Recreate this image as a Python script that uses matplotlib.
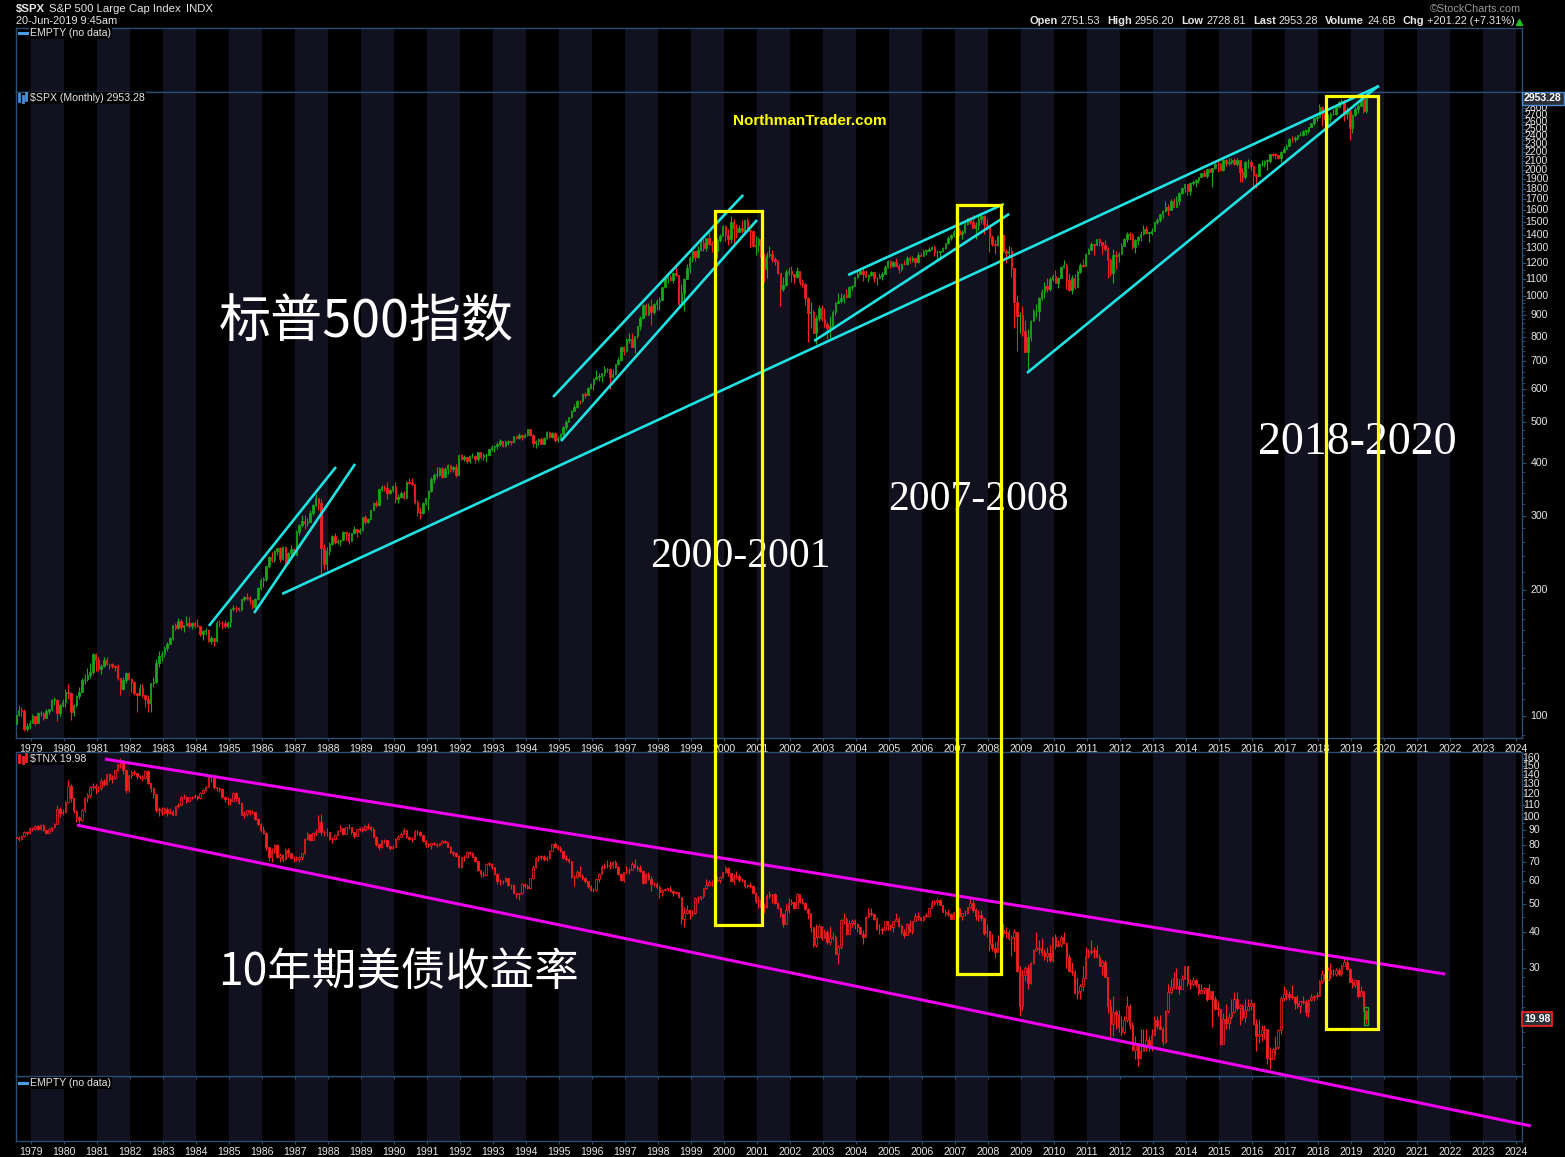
import numpy as np
import matplotlib.pyplot as plt
from matplotlib.patches import Rectangle
from matplotlib.lines import Line2D
from matplotlib.transforms import blended_transform_factory

W, H, DPI = 1565, 1157, 100

BG = 'black'
STRIPE = '#11111f'
FRAME = '#2b4d72'
TXT = '#e6e6e6'
GREEN = '#1aa81a'
RED = '#ff1f1f'
CYAN = '#1fe2e2'
MAGENTA = '#f000f0'
YELLOW = '#ffff00'

plt.rcParams['font.family'] = ['Liberation Sans', 'DejaVu Sans']

FIRST_MONTH = 1978.5  # first monthly bar = Jul 1978

# ---- $SPX monthly bars (Jul 1978 .. Jun 2019) ----
spx_open0 = 95.53
spx_close = [
    100.68, 103.29, 102.54, 93.15, 94.70, 96.11,
    99.93, 96.28, 101.59, 101.76, 99.08, 102.91, 103.81, 109.32, 109.32, 101.82, 106.16, 107.94,
    114.16, 113.66, 102.09, 106.29, 111.24, 114.24, 121.67, 122.38, 125.46, 127.47, 140.52, 135.76,
    129.55, 131.27, 136.00, 132.81, 132.59, 131.21, 130.92, 122.79, 116.18, 121.89, 126.35, 122.55,
    120.40, 113.11, 111.96, 116.44, 111.88, 109.61, 107.09, 119.51, 120.42, 133.71, 138.54, 140.64,
    145.30, 148.06, 152.96, 164.42, 162.39, 168.11, 162.56, 164.40, 166.07, 163.55, 166.40, 164.93,
    163.41, 157.06, 159.18, 160.05, 150.55, 153.18, 150.66, 166.68, 166.10, 166.09, 163.58, 167.24,
    179.63, 181.18, 180.66, 179.83, 189.55, 191.85, 190.92, 188.63, 182.08, 189.82, 202.17, 211.28,
    211.78, 226.92, 238.90, 235.52, 247.35, 250.84, 236.12, 252.93, 231.32, 243.98, 249.22, 242.17,
    274.08, 284.20, 291.70, 288.36, 290.10, 304.00, 318.66, 329.80, 321.83, 251.79, 230.30, 247.08,
    257.07, 267.82, 258.89, 261.33, 262.16, 273.50, 272.02, 261.52, 271.91, 278.97, 273.70, 277.72,
    297.47, 288.86, 294.87, 309.64, 320.52, 317.98, 346.08, 351.45, 349.15, 340.36, 345.99, 353.40,
    329.08, 331.89, 339.94, 330.80, 361.23, 358.02, 356.15, 322.56, 306.05, 304.00, 322.22, 330.22,
    343.93, 367.07, 375.22, 375.34, 389.83, 371.16, 387.81, 395.43, 387.86, 392.46, 375.22, 417.09,
    408.79, 412.70, 403.69, 414.95, 415.35, 408.14, 424.21, 414.03, 417.80, 418.68, 431.35, 435.71,
    438.78, 443.38, 451.67, 440.19, 450.19, 450.53, 448.13, 463.56, 458.93, 467.83, 461.79, 466.45,
    481.61, 467.14, 445.77, 450.91, 456.50, 444.27, 458.26, 475.49, 462.69, 472.35, 453.69, 459.27,
    470.42, 487.39, 500.71, 514.71, 533.40, 544.75, 562.06, 561.88, 584.41, 581.50, 605.37, 615.93,
    636.02, 640.43, 645.50, 654.17, 669.12, 670.63, 639.95, 651.99, 687.33, 705.27, 757.02, 740.74,
    786.16, 790.82, 757.12, 801.34, 848.28, 885.14, 954.31, 899.47, 947.28, 914.62, 955.40, 970.43,
    980.28, 1049.34, 1101.75, 1111.75, 1090.82, 1133.84, 1120.67, 957.28, 1017.01, 1098.67, 1163.63, 1229.23,
    1279.64, 1238.33, 1286.37, 1335.18, 1301.84, 1372.71, 1328.72, 1320.41, 1282.71, 1362.93, 1388.91, 1469.25,
    1394.46, 1366.42, 1498.58, 1452.43, 1420.60, 1454.60, 1430.83, 1517.68, 1436.51, 1429.40, 1314.95, 1320.28,
    1366.01, 1239.94, 1160.33, 1249.46, 1255.82, 1224.42, 1211.23, 1133.58, 1040.94, 1059.78, 1139.45, 1148.08,
    1130.20, 1106.73, 1147.39, 1076.92, 1067.14, 989.82, 911.62, 916.07, 815.28, 885.76, 936.31, 879.82,
    855.70, 841.15, 848.18, 916.92, 963.59, 974.50, 990.31, 1008.01, 995.97, 1050.71, 1058.20, 1111.92,
    1131.13, 1144.94, 1126.21, 1107.30, 1120.68, 1140.84, 1101.72, 1104.24, 1114.58, 1130.20, 1173.82, 1211.92,
    1181.27, 1203.60, 1180.59, 1156.85, 1191.50, 1191.33, 1234.18, 1220.33, 1228.81, 1207.01, 1249.48, 1248.29,
    1280.08, 1280.66, 1294.83, 1310.61, 1270.09, 1270.20, 1276.66, 1303.82, 1335.85, 1377.94, 1400.63, 1418.30,
    1438.24, 1406.82, 1420.86, 1482.37, 1530.62, 1503.35, 1455.27, 1473.99, 1526.75, 1549.38, 1481.14, 1468.36,
    1378.55, 1330.63, 1322.70, 1385.59, 1400.38, 1280.00, 1267.38, 1282.83, 1166.36, 968.75, 896.24, 903.25,
    825.88, 735.09, 797.87, 872.81, 919.14, 919.32, 987.48, 1020.62, 1057.08, 1036.19, 1095.63, 1115.10,
    1073.87, 1104.49, 1169.43, 1186.69, 1089.41, 1030.71, 1101.60, 1049.33, 1141.20, 1183.26, 1180.55, 1257.64,
    1286.12, 1327.22, 1325.83, 1363.61, 1345.20, 1320.64, 1292.28, 1218.89, 1131.42, 1253.30, 1246.96, 1257.60,
    1312.41, 1365.68, 1408.47, 1397.91, 1310.33, 1362.16, 1379.32, 1406.58, 1440.67, 1412.16, 1416.18, 1426.19,
    1498.11, 1514.68, 1569.19, 1597.57, 1630.74, 1606.28, 1685.73, 1632.97, 1681.55, 1756.54, 1805.81, 1848.36,
    1782.59, 1859.45, 1872.34, 1883.95, 1923.57, 1960.23, 1930.67, 2003.37, 1972.29, 2018.05, 2067.56, 2058.90,
    1994.99, 2104.50, 2067.89, 2085.51, 2107.39, 2063.11, 2103.84, 1972.18, 1920.03, 2079.36, 2080.41, 2043.94,
    1940.24, 1932.23, 2059.74, 2065.30, 2096.95, 2098.86, 2173.60, 2170.95, 2168.27, 2126.15, 2198.81, 2238.83,
    2278.87, 2363.64, 2362.72, 2384.20, 2411.80, 2423.41, 2470.30, 2471.65, 2519.36, 2575.26, 2647.58, 2673.61,
    2823.81, 2713.83, 2640.87, 2648.05, 2705.27, 2718.37, 2816.29, 2901.52, 2913.98, 2711.74, 2760.17, 2506.85,
    2704.10, 2784.49, 2834.40, 2945.83, 2752.06, 2953.28,
]
spx_high = [
    101, 106, 105, 104, 96, 98,
    101, 100, 102, 103, 102, 104, 104, 110, 111, 110, 107, 110,
    116, 119, 114, 107, 112, 117, 123, 126, 130, 134, 141, 141,
    138, 133, 138, 138, 134, 134, 132, 133, 123, 124, 127, 127,
    123, 121, 113, 119, 119, 112, 112, 120, 124, 137, 143, 143,
    147, 150, 154, 165, 166, 171, 170, 165, 173, 172, 167, 168,
    170, 164, 160, 162, 161, 155, 152, 168, 169, 168, 169, 168,
    180, 184, 183, 182, 190, 193, 196, 193, 189, 191, 203, 213,
    214, 227, 240, 245, 248, 251, 253, 254, 254, 245, 255, 251,
    277, 286, 301, 301, 296, 309, 320, 338, 330, 328, 256, 253,
    260, 269, 272, 264, 263, 276, 275, 274, 272, 283, 279, 280,
    298, 301, 296, 310, 323, 327, 347, 354, 355, 360, 347, 354,
    360, 337, 344, 344, 362, 369, 369, 356, 326, 315, 323, 331,
    345, 371, 378, 392, 391, 391, 391, 397, 396, 394, 398, 418,
    421, 419, 414, 419, 423, 418, 425, 425, 423, 422, 432, 442,
    442, 450, 457, 452, 454, 453, 451, 464, 464, 471, 469, 471,
    483, 482, 469, 453, 459, 462, 461, 477, 476, 475, 474, 463,
    473, 489, 507, 515, 534, 552, 564, 565, 586, 590, 608, 622,
    637, 665, 656, 656, 680, 673, 673, 669, 690, 714, 762, 762,
    794, 818, 815, 805, 850, 898, 957, 961, 960, 983, 961, 986,
    992, 1050, 1106, 1131, 1123, 1139, 1190, 1121, 1066, 1103, 1193, 1244,
    1283, 1282, 1317, 1362, 1368, 1373, 1419, 1350, 1361, 1373, 1408, 1474,
    1478, 1445, 1553, 1528, 1481, 1474, 1517, 1519, 1530, 1437, 1433, 1390,
    1384, 1377, 1264, 1270, 1316, 1287, 1236, 1218, 1135, 1110, 1161, 1174,
    1176, 1131, 1173, 1147, 1099, 1071, 994, 965, 925, 900, 954, 954,
    935, 865, 896, 924, 965, 1015, 1016, 1012, 1040, 1054, 1064, 1112,
    1155, 1158, 1163, 1150, 1127, 1146, 1141, 1110, 1132, 1141, 1188, 1217,
    1218, 1213, 1229, 1192, 1199, 1219, 1246, 1245, 1243, 1233, 1271, 1276,
    1295, 1297, 1310, 1318, 1326, 1284, 1283, 1307, 1340, 1389, 1407, 1432,
    1441, 1461, 1438, 1498, 1533, 1541, 1556, 1503, 1539, 1576, 1555, 1524,
    1471, 1396, 1359, 1397, 1441, 1405, 1293, 1314, 1305, 1168, 1007, 918,
    944, 877, 833, 877, 930, 957, 996, 1040, 1081, 1101, 1111, 1130,
    1150, 1112, 1181, 1220, 1200, 1132, 1120, 1130, 1150, 1196, 1228, 1263,
    1303, 1345, 1333, 1364, 1371, 1346, 1357, 1308, 1230, 1293, 1277, 1270,
    1334, 1377, 1419, 1423, 1416, 1363, 1392, 1427, 1475, 1470, 1417, 1448,
    1504, 1531, 1570, 1598, 1687, 1654, 1698, 1709, 1730, 1768, 1813, 1849,
    1851, 1867, 1884, 1897, 1925, 1968, 1992, 2005, 2019, 2019, 2076, 2094,
    2072, 2119, 2117, 2126, 2135, 2130, 2132, 2113, 2021, 2094, 2117, 2104,
    2039, 1963, 2073, 2111, 2104, 2121, 2178, 2194, 2188, 2169, 2214, 2278,
    2301, 2372, 2401, 2399, 2418, 2454, 2484, 2491, 2520, 2582, 2658, 2695,
    2873, 2836, 2801, 2718, 2742, 2791, 2849, 2917, 2941, 2940, 2816, 2800,
    2708, 2813, 2860, 2949, 2955, 2956,
]
spx_low = [
    94, 100, 100, 92, 92, 93,
    96, 95, 96, 100, 98, 99, 101, 103, 106, 97, 100, 105,
    105, 110, 98, 100, 105, 110, 114, 119, 121, 123, 126, 128,
    128, 126, 131, 132, 129, 130, 128, 122, 112, 115, 120, 122,
    114, 112, 102, 112, 111, 105, 102, 102, 117, 120, 131, 135,
    138, 143, 148, 152, 160, 161, 160, 158, 164, 162, 161, 162,
    163, 155, 152, 156, 150, 148, 147, 150, 163, 161, 162, 162,
    163, 178, 177, 178, 178, 188, 189, 185, 180, 181, 189, 200,
    203, 210, 225, 232, 232, 241, 233, 235, 228, 231, 239, 242,
    242, 269, 281, 278, 283, 289, 301, 316, 309, 216, 224, 223,
    242, 255, 256, 256, 254, 262, 263, 256, 262, 271, 266, 271,
    276, 287, 288, 294, 309, 315, 316, 343, 343, 329, 337, 341,
    322, 322, 331, 328, 330, 356, 354, 320, 300, 294, 302, 318,
    309, 341, 359, 368, 372, 368, 370, 377, 381, 380, 371, 374,
    406, 405, 401, 400, 411, 401, 404, 410, 407, 402, 417, 427,
    425, 431, 440, 437, 437, 441, 441, 446, 456, 457, 454, 461,
    464, 464, 438, 435, 442, 443, 444, 456, 460, 460, 449, 450,
    457, 467, 480, 500, 511, 531, 540, 554, 560, 573, 580, 599,
    597, 631, 627, 624, 645, 658, 601, 638, 649, 684, 699, 723,
    737, 773, 756, 733, 794, 830, 882, 899, 900, 855, 908, 924,
    927, 980, 1044, 1076, 1086, 1075, 1114, 940, 939, 923, 1097, 1133,
    1205, 1211, 1234, 1282, 1282, 1282, 1324, 1273, 1268, 1233, 1343, 1387,
    1350, 1326, 1339, 1340, 1374, 1420, 1416, 1431, 1435, 1305, 1305, 1254,
    1275, 1216, 1082, 1104, 1235, 1203, 1183, 1130, 945, 1026, 1054, 1124,
    1081, 1075, 1106, 1064, 1048, 953, 776, 838, 815, 768, 872, 872,
    845, 789, 788, 847, 902, 963, 962, 961, 991, 994, 1032, 1058,
    1105, 1125, 1088, 1107, 1077, 1114, 1079, 1060, 1101, 1090, 1127, 1163,
    1163, 1170, 1176, 1137, 1147, 1188, 1183, 1201, 1205, 1169, 1201, 1246,
    1245, 1253, 1279, 1285, 1245, 1219, 1225, 1271, 1291, 1327, 1360, 1385,
    1403, 1390, 1364, 1416, 1476, 1484, 1451, 1370, 1439, 1489, 1407, 1436,
    1270, 1317, 1257, 1318, 1374, 1272, 1200, 1248, 1107, 839, 741, 815,
    805, 735, 667, 783, 879, 889, 870, 979, 991, 1020, 1030, 1086,
    1071, 1045, 1106, 1165, 1040, 1029, 1011, 1040, 1049, 1132, 1173, 1181,
    1257, 1287, 1249, 1324, 1318, 1259, 1283, 1102, 1115, 1075, 1158, 1203,
    1258, 1312, 1341, 1358, 1292, 1267, 1325, 1355, 1397, 1404, 1343, 1398,
    1426, 1485, 1501, 1536, 1582, 1560, 1605, 1628, 1633, 1646, 1747, 1768,
    1738, 1737, 1834, 1814, 1862, 1915, 1930, 1905, 1964, 1821, 2001, 1973,
    1988, 1981, 2040, 2048, 2067, 2056, 2045, 1867, 1872, 1894, 2020, 1993,
    1812, 1811, 1937, 2034, 2026, 1992, 2075, 2148, 2120, 2114, 2084, 2187,
    2245, 2271, 2322, 2329, 2353, 2405, 2407, 2418, 2447, 2520, 2557, 2605,
    2682, 2533, 2586, 2553, 2595, 2692, 2699, 2803, 2864, 2604, 2632, 2346,
    2444, 2681, 2722, 2848, 2729, 2729,
]

# ---- $TNX monthly bars (yield x10), Jul 1978 .. Jun 2019 ----
tnx_open0 = 85.0
tnx_close = [
    84.6, 84.1, 85.8, 88.6, 88.4, 91.5,
    91.0, 93.0, 91.2, 94.0, 90.5, 88.0, 91.0, 92.0, 94.5, 107.0, 103.0, 103.9,
    113.0, 128.0, 116.0, 105.0, 100.0, 98.0, 106.0, 116.0, 119.5, 127.0, 128.0, 125.7,
    126.0, 133.5, 130.0, 140.5, 135.0, 136.0, 145.0, 152.0, 154.0, 145.0, 124.0, 139.8,
    143.0, 142.0, 139.0, 138.0, 136.0, 144.5, 131.0, 126.0, 120.0, 106.0, 106.0, 104.5,
    107.0, 103.5, 104.5, 102.0, 109.0, 110.0, 117.5, 117.0, 113.5, 117.0, 117.0, 118.0,
    116.0, 121.0, 124.5, 127.0, 138.5, 137.5, 127.0, 126.0, 125.0, 117.0, 115.0, 115.5,
    114.0, 121.5, 116.0, 112.0, 102.0, 102.5, 105.5, 104.0, 104.0, 98.5, 94.5, 90.0,
    88.0, 78.5, 73.0, 77.0, 80.0, 72.5, 74.0, 71.5, 77.0, 75.0, 72.0, 72.3,
    71.5, 72.5, 75.0, 84.0, 87.5, 83.5, 88.0, 89.0, 96.0, 89.0, 88.5, 88.5,
    84.0, 84.0, 87.0, 89.5, 91.5, 87.5, 92.0, 92.5, 88.5, 86.0, 91.0, 91.5,
    90.0, 93.0, 92.5, 91.0, 85.5, 80.5, 78.5, 83.0, 83.0, 79.5, 78.0, 79.0,
    84.0, 85.5, 87.5, 90.5, 85.5, 84.0, 84.0, 89.0, 88.5, 86.5, 82.5, 80.5,
    80.0, 81.0, 80.5, 80.0, 81.5, 82.5, 82.0, 79.0, 75.5, 75.0, 73.5, 67.0,
    72.5, 72.5, 75.5, 75.0, 73.0, 70.5, 65.5, 63.5, 63.0, 69.0, 69.0, 66.9,
    63.5, 60.0, 60.0, 60.0, 61.5, 58.0, 58.0, 54.5, 54.0, 54.5, 58.5, 57.9,
    57.0, 61.5, 67.0, 72.0, 73.0, 73.0, 71.5, 72.0, 76.5, 80.5, 79.0, 78.2,
    76.0, 72.0, 71.5, 70.5, 62.0, 62.0, 64.5, 62.5, 61.5, 60.0, 57.5, 55.8,
    56.0, 61.0, 63.5, 67.0, 67.5, 67.5, 68.5, 70.0, 67.0, 63.5, 60.5, 64.3,
    65.5, 65.5, 69.0, 67.0, 66.5, 65.0, 59.0, 63.5, 61.0, 58.5, 58.5, 57.4,
    55.0, 56.0, 56.5, 56.5, 55.5, 54.5, 55.0, 53.0, 44.5, 46.5, 47.5, 46.5,
    46.5, 52.5, 52.5, 53.5, 57.0, 58.0, 59.5, 59.5, 60.0, 60.5, 62.0, 64.5,
    66.5, 64.0, 60.0, 62.0, 62.5, 60.5, 60.5, 57.5, 58.0, 57.5, 54.5, 51.2,
    51.5, 49.0, 49.0, 53.5, 54.0, 54.0, 50.5, 48.5, 46.0, 42.5, 47.5, 50.5,
    51.0, 48.5, 54.0, 51.0, 50.5, 48.0, 46.5, 41.5, 36.0, 38.5, 42.0, 38.2,
    40.0, 37.0, 38.0, 38.5, 33.5, 35.5, 44.0, 44.5, 39.5, 43.0, 43.5, 42.5,
    41.5, 39.5, 38.5, 45.0, 46.5, 46.0, 44.5, 41.0, 41.0, 40.5, 43.5, 42.2,
    41.5, 43.5, 44.5, 42.0, 40.0, 39.0, 42.5, 40.0, 43.5, 45.5, 45.0, 43.9,
    45.5, 45.5, 48.5, 50.5, 51.0, 51.5, 49.5, 47.0, 46.5, 46.0, 44.5, 47.0,
    48.5, 45.5, 46.5, 46.5, 49.0, 50.3, 47.5, 45.5, 45.9, 44.7, 39.7, 40.2,
    36.4, 35.2, 34.1, 37.3, 40.6, 39.7, 39.9, 38.2, 38.3, 40.1, 29.3, 22.1,
    28.4, 30.1, 26.7, 31.2, 34.6, 35.3, 34.8, 34.0, 33.1, 33.9, 32.0, 38.4,
    35.9, 36.1, 38.3, 36.6, 32.9, 29.3, 29.1, 24.7, 25.1, 26.0, 27.8, 33.0,
    34.0, 34.3, 34.7, 32.9, 30.6, 31.6, 28.0, 22.2, 19.2, 21.1, 20.8, 18.8,
    18.0, 19.8, 22.2, 19.1, 15.6, 16.5, 14.7, 15.5, 16.3, 16.9, 16.1, 17.6,
    19.9, 18.9, 18.5, 16.7, 21.3, 24.9, 25.8, 27.8, 26.1, 25.5, 27.5, 30.4,
    26.6, 26.5, 27.2, 26.5, 24.6, 25.3, 25.6, 23.4, 25.0, 23.4, 21.7, 21.7,
    16.4, 20.0, 19.3, 20.3, 21.2, 23.5, 21.8, 22.2, 20.4, 21.5, 22.1, 22.7,
    19.2, 17.4, 17.7, 18.3, 18.5, 14.7, 14.6, 15.8, 16.0, 18.3, 23.7, 24.5,
    24.5, 23.9, 23.9, 22.8, 22.1, 23.0, 22.9, 21.2, 23.3, 23.8, 24.1, 24.1,
    27.1, 28.6, 27.4, 29.5, 28.6, 28.6, 29.6, 28.6, 30.6, 31.4, 29.9, 26.9,
    26.3, 27.2, 24.1, 25.0, 21.4, 19.98,
]
tnx_high = [
    87.5, 86.0, 86.5, 89.5, 89.5, 92.0,
    92.5, 93.5, 93.5, 94.5, 94.5, 90.5, 91.5, 92.5, 95.0, 110.0, 108.0, 107.0,
    114.0, 134.0, 130.0, 117.0, 106.0, 101.0, 107.0, 117.0, 121.0, 128.0, 131.0, 130.0,
    128.5, 136.0, 135.0, 141.0, 142.0, 140.0, 146.0, 153.0, 160.0, 157.0, 145.0, 140.0,
    146.0, 145.0, 142.5, 140.0, 140.0, 146.0, 145.0, 131.5, 127.0, 119.0, 108.0, 108.0,
    108.5, 108.0, 107.5, 106.0, 109.5, 111.5, 118.0, 120.0, 118.0, 117.5, 118.5, 120.0,
    119.0, 122.0, 125.5, 128.5, 140.0, 139.0, 138.5, 127.5, 127.5, 126.0, 118.5, 117.0,
    116.0, 122.0, 122.0, 117.5, 112.5, 105.0, 106.0, 106.0, 105.5, 104.0, 99.0, 95.0,
    93.0, 88.5, 79.0, 78.0, 80.5, 80.5, 75.0, 74.5, 78.0, 78.0, 75.0, 73.5,
    73.5, 73.5, 75.0, 84.5, 89.0, 87.5, 88.5, 91.0, 102.0, 102.5, 90.0, 91.5,
    89.0, 85.5, 87.5, 90.5, 93.5, 91.5, 92.0, 94.5, 92.5, 88.5, 91.0, 92.0,
    92.5, 93.5, 95.0, 93.0, 92.0, 86.0, 81.0, 83.5, 84.0, 83.0, 79.5, 80.0,
    84.5, 86.5, 88.5, 91.5, 90.5, 86.0, 85.0, 90.0, 90.5, 89.5, 86.5, 83.0,
    81.5, 81.5, 82.0, 81.0, 81.5, 83.5, 83.5, 82.0, 79.5, 76.5, 75.5, 74.0,
    73.0, 74.0, 76.5, 76.5, 75.5, 73.5, 70.5, 65.5, 65.0, 69.5, 70.0, 69.5,
    67.0, 64.0, 61.0, 60.5, 62.0, 61.5, 58.5, 58.5, 54.5, 54.5, 59.0, 59.0,
    58.5, 61.5, 68.5, 72.5, 74.0, 74.0, 74.0, 73.5, 77.0, 80.5, 82.0, 80.0,
    79.5, 76.0, 74.0, 72.0, 70.5, 63.0, 65.5, 67.5, 63.5, 62.0, 60.0, 58.0,
    57.0, 61.0, 64.0, 68.0, 69.5, 71.0, 70.5, 70.5, 71.0, 67.5, 64.0, 64.5,
    67.5, 66.5, 70.0, 71.5, 68.5, 68.0, 65.0, 64.0, 64.5, 62.5, 59.5, 59.5,
    58.0, 56.5, 57.0, 57.0, 57.5, 56.0, 55.5, 55.0, 53.0, 49.0, 49.5, 48.0,
    47.5, 53.0, 53.5, 53.5, 57.0, 61.0, 60.5, 60.5, 60.0, 62.5, 62.5, 64.5,
    67.5, 67.0, 64.0, 63.5, 65.0, 63.5, 61.5, 60.5, 58.5, 59.5, 58.0, 55.0,
    53.5, 52.5, 50.5, 54.0, 55.5, 54.0, 54.5, 51.0, 49.0, 46.5, 50.0, 52.5,
    52.0, 51.0, 54.5, 54.0, 52.5, 51.0, 48.5, 46.5, 41.5, 42.5, 42.5, 42.0,
    41.0, 40.5, 42.0, 40.0, 39.0, 36.0, 44.5, 46.5, 45.0, 44.0, 44.5, 44.5,
    43.0, 41.5, 40.5, 45.5, 48.5, 48.5, 46.0, 45.0, 42.5, 41.5, 43.5, 43.5,
    42.5, 43.5, 46.5, 45.0, 42.5, 41.0, 43.0, 44.0, 43.5, 46.5, 47.0, 45.0,
    45.5, 46.5, 48.5, 51.5, 51.5, 52.5, 52.0, 49.5, 48.0, 48.0, 46.5, 47.0,
    49.5, 49.0, 46.5, 47.5, 49.0, 53.0, 51.5, 48.5, 47.5, 47.5, 44.5, 42.5,
    40.5, 39.5, 37.0, 39.0, 41.0, 42.5, 41.5, 40.5, 39.0, 41.0, 40.0, 30.5,
    29.5, 30.5, 31.0, 31.5, 35.0, 40.0, 37.5, 38.0, 35.0, 35.5, 36.0, 38.5,
    39.5, 37.5, 39.0, 40.0, 37.0, 33.5, 31.5, 29.5, 28.0, 26.5, 30.5, 35.5,
    35.0, 37.5, 35.5, 36.0, 33.5, 32.0, 32.0, 28.0, 23.5, 24.0, 21.5, 21.5,
    20.5, 20.5, 24.0, 22.5, 19.5, 17.5, 16.5, 18.5, 18.5, 18.5, 17.5, 18.5,
    20.5, 20.5, 20.7, 18.7, 21.5, 26.5, 27.5, 29.0, 30.0, 27.5, 28.5, 30.5,
    30.0, 27.5, 28.0, 27.5, 26.5, 26.5, 25.8, 25.6, 26.5, 25.0, 24.0, 23.0,
    21.5, 21.0, 22.5, 21.0, 23.5, 24.9, 24.8, 22.5, 22.5, 23.5, 23.5, 23.5,
    22.5, 20.0, 20.0, 19.0, 19.0, 18.5, 16.0, 16.0, 17.5, 18.5, 24.0, 26.0,
    25.5, 25.0, 26.2, 24.0, 24.2, 23.0, 24.0, 23.2, 23.5, 24.5, 24.3, 24.9,
    27.2, 29.5, 29.5, 30.3, 31.2, 29.9, 30.0, 30.0, 30.9, 32.5, 32.4, 30.1,
    27.8, 27.5, 26.5, 26.0, 25.1, 21.6,
]
tnx_low = [
    84.0, 82.5, 83.5, 85.5, 87.0, 87.5,
    89.5, 90.5, 90.5, 90.5, 89.5, 87.5, 88.0, 89.5, 91.5, 94.5, 100.0, 102.0,
    103.5, 112.0, 113.0, 103.0, 96.0, 95.0, 97.0, 104.0, 113.0, 117.0, 124.0, 120.0,
    122.0, 124.0, 128.5, 129.5, 133.0, 131.5, 135.0, 144.0, 148.0, 141.0, 121.0, 122.5,
    137.0, 139.5, 135.0, 135.5, 133.5, 135.0, 130.0, 122.0, 116.5, 104.5, 101.0, 102.0,
    102.5, 101.0, 102.5, 101.5, 101.5, 107.5, 110.0, 115.5, 112.0, 112.5, 115.0, 116.5,
    114.5, 115.5, 120.0, 123.0, 127.0, 132.0, 125.5, 123.0, 122.5, 116.0, 113.0, 110.5,
    110.0, 113.5, 114.0, 111.0, 101.5, 99.5, 100.5, 102.0, 102.5, 98.0, 94.0, 88.5,
    87.5, 77.0, 70.5, 70.0, 75.0, 72.0, 70.0, 70.0, 71.0, 73.0, 71.5, 70.0,
    70.5, 70.0, 71.0, 74.5, 83.0, 82.5, 83.0, 87.0, 88.5, 86.5, 86.0, 86.0,
    83.5, 81.5, 83.0, 86.5, 89.0, 86.5, 87.5, 91.0, 87.5, 84.5, 86.0, 89.5,
    89.0, 89.5, 91.0, 89.5, 85.0, 79.5, 77.0, 78.0, 81.5, 78.5, 77.0, 77.5,
    79.0, 83.5, 85.5, 87.5, 84.5, 83.5, 82.0, 84.0, 87.0, 86.0, 82.0, 78.5,
    79.0, 77.5, 80.0, 79.0, 79.5, 81.0, 81.5, 78.5, 75.0, 73.5, 72.5, 66.5,
    66.5, 70.5, 72.0, 74.0, 72.5, 70.0, 65.0, 62.0, 62.0, 62.5, 67.5, 66.0,
    63.0, 58.5, 58.0, 58.5, 59.5, 57.5, 56.5, 54.0, 52.5, 51.5, 54.0, 57.0,
    56.5, 56.5, 61.0, 66.5, 70.5, 71.0, 70.5, 70.5, 71.5, 76.0, 78.0, 77.0,
    75.5, 71.5, 70.5, 69.5, 61.5, 57.5, 61.5, 62.0, 60.5, 59.0, 57.0, 55.5,
    55.0, 55.5, 59.5, 63.5, 66.0, 66.5, 66.0, 66.5, 66.5, 63.0, 60.0, 59.5,
    63.5, 63.5, 65.5, 66.5, 65.0, 64.5, 58.5, 59.0, 60.5, 55.5, 57.5, 56.5,
    52.5, 53.5, 55.5, 55.5, 55.0, 53.5, 54.0, 52.5, 42.5, 41.5, 46.0, 44.5,
    45.5, 46.0, 50.5, 51.5, 52.5, 56.5, 57.5, 57.5, 57.0, 59.5, 59.0, 61.5,
    64.0, 62.5, 59.5, 58.5, 61.0, 59.5, 59.5, 57.0, 57.0, 57.0, 54.0, 50.5,
    48.5, 48.0, 46.5, 48.5, 52.5, 50.5, 50.0, 48.0, 45.0, 41.5, 42.5, 46.5,
    49.5, 48.0, 48.5, 50.5, 50.0, 47.5, 44.5, 40.0, 35.5, 35.5, 38.5, 37.5,
    38.0, 36.5, 36.0, 37.5, 33.5, 31.0, 35.0, 42.5, 39.0, 39.5, 41.5, 41.0,
    40.0, 39.5, 36.5, 38.5, 45.0, 45.5, 44.0, 40.5, 39.5, 39.5, 40.5, 40.5,
    40.5, 40.0, 43.5, 41.5, 39.5, 38.0, 39.0, 40.0, 39.5, 43.5, 44.0, 43.5,
    43.5, 45.0, 45.0, 48.5, 49.5, 49.5, 49.5, 47.0, 45.5, 45.5, 44.5, 44.5,
    46.5, 45.0, 44.0, 45.5, 46.0, 48.5, 47.0, 44.0, 43.5, 43.5, 39.0, 38.5,
    34.5, 34.5, 32.5, 34.0, 37.0, 38.5, 38.0, 37.5, 33.0, 34.5, 29.0, 20.5,
    21.5, 27.0, 25.5, 26.5, 31.0, 34.5, 33.5, 33.0, 32.0, 31.5, 31.5, 31.5,
    35.0, 35.5, 35.5, 36.5, 30.0, 29.0, 28.5, 24.5, 23.5, 23.5, 25.0, 27.5,
    32.5, 33.5, 32.5, 32.5, 30.5, 28.5, 28.0, 21.0, 17.0, 17.5, 18.5, 18.0,
    17.5, 17.8, 19.5, 18.5, 15.5, 14.5, 13.8, 14.5, 15.5, 15.5, 15.5, 15.5,
    17.5, 18.5, 18.5, 16.2, 16.5, 21.0, 24.5, 25.5, 25.5, 24.5, 25.5, 27.5,
    26.0, 25.5, 26.0, 25.8, 24.3, 24.5, 24.5, 23.0, 23.5, 18.7, 21.5, 20.5,
    16.3, 16.5, 18.5, 18.5, 20.0, 21.0, 21.5, 19.0, 19.8, 19.5, 21.5, 21.5,
    19.0, 15.5, 16.5, 16.8, 17.0, 14.0, 13.4, 15.0, 15.0, 15.7, 17.8, 23.0,
    23.3, 23.3, 23.5, 21.7, 21.8, 21.0, 22.5, 20.5, 20.3, 23.1, 23.0, 23.5,
    24.1, 26.6, 27.4, 27.2, 27.6, 28.1, 28.2, 28.1, 28.1, 30.5, 29.6, 26.8,
    25.6, 25.9, 23.6, 24.0, 21.3, 19.4,
]

years = list(range(1979, 2025))
spx_ticks = [100, 200, 300, 400, 500, 600, 700, 800, 900] + list(range(1000, 2900, 100))
spx_minor = list(range(90, 200, 10)) + list(range(220, 1000, 20)) + list(range(1050, 3000, 50))
tnx_ticks = [30, 40, 50, 60, 70, 80, 90, 100, 110, 120, 130, 140, 150, 160]
tnx_minor = list(range(14, 30, 2)) + [35, 45, 55, 65, 75, 85, 95]

# hand drawn trend lines, (year, value) end points
spx_trends = [
    ((1984.39, 163.8), (1988.24, 391.6)),
    ((1985.76, 175.9), (1988.82, 398.1)),
    ((1986.61, 195.2), (2019.85, 3162)),
    ((1994.82, 574.8), (2000.58, 1740)),
    ((1995.06, 451.6), (2001.00, 1517)),
    ((2003.76, 1122), (2008.48, 1656)),
    ((2002.73, 781.5), (2008.64, 1568)),
    ((2009.18, 655.6), (2019.82, 3162)),
]
tnx_trends = [
    ((1981.24, 158.7), (2021.85, 28.6)),
    ((1980.39, 93.8), (2024.45, 8.53)),
]
# highlighted windows: year from, year to, top on $SPX, bottom on $TNX
windows = [
    (1999.73, 2001.15, 1594, 42.3),
    (2007.06, 2008.39, 1647, 28.6),
    (2018.24, 2019.82, 2994, 18.5),
]


def px(x, y):
    return x / W, 1 - y / H


fig = plt.figure(figsize=(W / DPI, H / DPI), dpi=DPI, facecolor=BG)


def panel(top, bottom, xlabels=False):
    ax = fig.add_axes([16 / W, 1 - bottom / H, 1506 / W, (bottom - top) / H])
    ax.set_facecolor(BG)
    for yr in range(1979, 2025, 2):
        ax.axvspan(yr, yr + 1, color=STRIPE, lw=0, zorder=0)
    ax.set_xlim(1978.545, 2024.18)
    for s in ax.spines.values():
        s.set_color(FRAME)
        s.set_linewidth(1.0)
    ax.set_xticks(years)
    if xlabels:
        ax.set_xticklabels([str(y) for y in years])
    else:
        ax.set_xticklabels([])
    ax.tick_params(axis='x', colors=FRAME, labelcolor=TXT, labelsize=7.6, length=2, pad=2)
    ax.set_yticks([])
    return ax


ax_top = panel(28, 92)
ax_spx = panel(92, 738, xlabels=True)
ax_tnx = panel(752, 1076)
ax_bot = panel(1076, 1141, xlabels=True)
# price panels above the empty panels so the trend lines can run over them
ax_spx.set_zorder(2)
ax_tnx.set_zorder(2)


def candles(ax, o, h, l, c, up_col, down_col, hollow_up):
    o, h, l, c = map(np.asarray, (o, h, l, c))
    x = FIRST_MONTH + (np.arange(len(c)) + 0.5) / 12
    top = np.maximum(o, c)
    bot = np.minimum(o, c)
    up = c >= o
    cols = np.where(up, up_col, down_col)
    ax.vlines(x, top, np.maximum(h, top), colors=cols, lw=0.8, zorder=2)
    ax.vlines(x, np.minimum(l, bot), bot, colors=cols, lw=0.8, zorder=2)
    height = np.maximum(top - bot, top * 0.003)
    face = ['none' if (hollow_up and u) else col for u, col in zip(up, cols)]
    ax.bar(x, height, bottom=bot, width=0.05, color=face, edgecolor=cols, lw=0.55, zorder=3)
    return x


def price_axis(ax, lo, hi, ticks, minor, label_x):
    ax.set_yscale('log')
    ax.set_ylim(lo, hi)
    ax.yaxis.tick_right()
    ax.set_yticks(ticks)
    ax.set_yticks(minor, minor=True)
    ax.yaxis.set_major_formatter(plt.NullFormatter())
    ax.yaxis.set_minor_formatter(plt.NullFormatter())
    ax.tick_params(axis='y', which='major', direction='out', colors=FRAME, length=3, width=0.8)
    ax.tick_params(axis='y', which='minor', direction='out', colors=FRAME, length=2, width=0.6)
    tr = blended_transform_factory(ax.transAxes, ax.transData)
    for v in ticks:
        ax.text(label_x, v, str(v), transform=tr, ha='right', va='center',
                fontsize=7.6, color=TXT, clip_on=False)
    return tr


spx_open = [spx_open0] + spx_close[:-1]
tnx_open = [tnx_open0] + tnx_close[:-1]

candles(ax_spx, spx_open, spx_high, spx_low, spx_close, GREEN, RED, hollow_up=False)
xt = candles(ax_tnx, tnx_open, tnx_high, tnx_low, tnx_close, RED, RED, hollow_up=True)

tr_spx = price_axis(ax_spx, 88.6, 3060, spx_ticks, spx_minor, (1548 - 16) / 1506)
tr_tnx = price_axis(ax_tnx, 12.7, 167.9, tnx_ticks, tnx_minor, (1540 - 16) / 1506)

# current bar highlight on $TNX
ax_tnx.add_patch(Rectangle((xt[-1] - 0.07, tnx_low[-1] * 0.985), 0.14,
                           tnx_high[-1] * 1.015 - tnx_low[-1] * 0.985,
                           fill=False, ec='#18a818', lw=1.0, zorder=4))

for (x0, y0), (x1, y1) in spx_trends:
    ax_spx.plot([x0, x1], [y0, y1], color=CYAN, lw=1.9, zorder=5, clip_on=False,
                solid_capstyle='butt')
for (x0, y0), (x1, y1) in tnx_trends:
    ax_tnx.plot([x0, x1], [y0, y1], color=MAGENTA, lw=2.2, zorder=5, clip_on=False,
                solid_capstyle='butt')

# yellow windows spanning both price panels
inv = fig.transFigure.inverted()
for x0, x1, top_v, bot_v in windows:
    fx0, fy1 = inv.transform(ax_spx.transData.transform((x0, top_v)))
    fx1, fy0 = inv.transform(ax_tnx.transData.transform((x1, bot_v)))
    fig.add_artist(Rectangle((fx0, fy0), fx1 - fx0, fy1 - fy0, fill=False, ec=YELLOW,
                             lw=2.3, transform=fig.transFigure, zorder=10))

# last price tags
ax_spx.text((1524 - 16) / 1506, spx_close[-1], '%.2f' % spx_close[-1], transform=tr_spx,
            ha='left', va='center', fontsize=7.6, fontweight='bold', color='white', clip_on=False,
            zorder=6, bbox=dict(boxstyle='square,pad=0.18', fc='#2c3038', ec='#4a8fd6', lw=1))
ax_tnx.text((1524 - 16) / 1506, tnx_close[-1], '%.2f' % tnx_close[-1], transform=tr_tnx,
            ha='left', va='center', fontsize=7.6, fontweight='bold', color='white', clip_on=False,
            zorder=6, bbox=dict(boxstyle='square,pad=0.18', fc='#2c3038', ec='#ff2020', lw=1.2))

renderer = fig.canvas.get_renderer()


def text_row(x, y, parts, align='left', size=7.9):
    items = []
    for s, bold, gap in parts:
        t = fig.text(0, 0, s, fontsize=size, color=TXT, va='center', ha='left',
                     fontweight='bold' if bold else 'normal')
        items.append((t, t.get_window_extent(renderer).width, gap))
    total = sum(w + g for _, w, g in items)
    cur = x - total if align == 'right' else x
    for t, w, g in items:
        t.set_position(px(cur, y))
        cur += w + g


text_row(16, 9, [('$SPX', True, 4), ('S&P 500 Large Cap Index', False, 5), ('INDX', False, 0)],
         size=8.2)
text_row(16, 21, [('20-Jun-2019 9:45am', False, 0)])
text_row(1515, 21, [('Open', True, 3), ('2751.53', False, 7), ('High', True, 3), ('2956.20', False, 7),
                    ('Low', True, 3), ('2728.81', False, 7), ('Last', True, 3), ('2953.28', False, 7),
                    ('Volume', True, 3), ('24.6B', False, 7), ('Chg', True, 3),
                    ('+201.22 (+7.31%)', False, 0)], align='right')
fig.text(*px(1521, 9), '\u00a9StockCharts.com', fontsize=7.8, color='#9a9a9a', ha='right', va='center')
fig.add_artist(Line2D([1519 / W], [1 - 22 / H], marker='^', ms=4, color='#22c022',
                      transform=fig.transFigure))


def panel_label(y, text, kind):
    fig.text(*px(30, y), text, fontsize=7.6, color=TXT, ha='left', va='center', zorder=8,
             bbox=dict(fc='black', ec='none', pad=0.6))
    if kind == 'empty':
        fig.add_artist(Line2D([19 / W, 27 / W], [1 - y / H] * 2, color='#4a9ee6', lw=2.2,
                              transform=fig.transFigure, zorder=8))
    else:
        col = '#4a8fd6' if kind == 'spx' else RED
        for i, (a, b) in enumerate([(-4, 3), (-2, 4), (-5, 2)]):
            xx = (19 + 3.5 * i) / W
            fig.add_artist(Line2D([xx, xx], [1 - (y + b) / H, 1 - (y + a) / H], color=col,
                                  lw=2.0, transform=fig.transFigure, zorder=8))


panel_label(33, 'EMPTY (no data)', 'empty')
panel_label(98, '$SPX (Monthly) 2953.28', 'spx')
panel_label(759, '$TNX 19.98', 'tnx')
panel_label(1083, 'EMPTY (no data)', 'empty')

# annotations
cjk = ['Noto Sans CJK SC', 'DejaVu Sans']
fig.text(*px(366, 323), '标普500指数', fontsize=37.5, color='white', family=cjk,
         ha='center', va='center', zorder=8)
fig.text(*px(399, 972), '10年期美债收益率', fontsize=32, color='white', family=cjk,
         ha='center', va='center', zorder=8)
serif = ['Liberation Serif', 'DejaVu Serif']
fig.text(*px(740, 557), '2000-2001', fontsize=30, color='white', family=serif,
         ha='center', va='center', zorder=8)
fig.text(*px(978, 500), '2007-2008', fontsize=30, color='white', family=serif,
         ha='center', va='center', zorder=8)
fig.text(*px(1357, 443), '2018-2020', fontsize=33, color='white', family=serif,
         ha='center', va='center', zorder=8)
fig.text(*px(810, 121), 'NorthmanTrader.com', fontsize=11, color=YELLOW, fontweight='bold',
         ha='center', va='center', zorder=8)

fig.savefig('out.png', dpi=DPI, facecolor=BG)
